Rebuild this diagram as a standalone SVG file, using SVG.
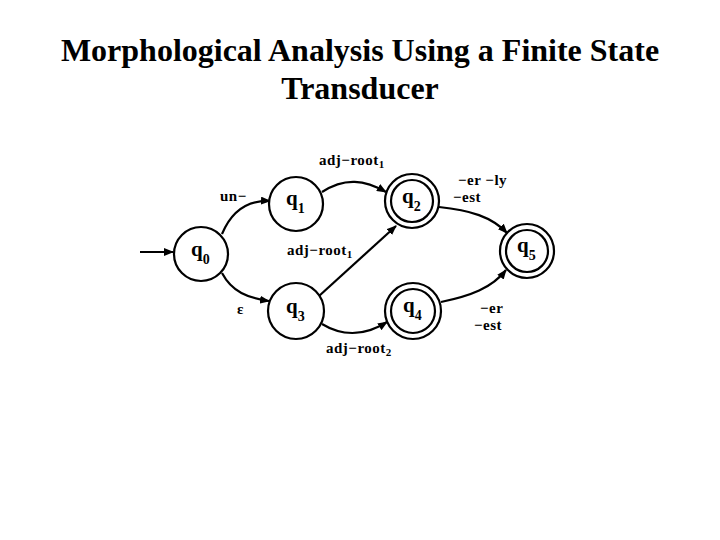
<svg xmlns="http://www.w3.org/2000/svg" width="720" height="540" viewBox="0 0 720 540">
<style>
.t{font-family:"Liberation Serif",serif;font-weight:bold;font-size:32px;text-anchor:middle;fill:#000}
.st{fill:#fff;stroke:#000;stroke-width:2.2}
.q{font-family:"Liberation Serif",serif;font-weight:bold;font-size:21px;fill:#000}
.qs{font-size:14px}
.s{font-size:11px}
.l{font-family:"Liberation Serif",serif;font-weight:bold;font-size:15px;fill:#000;letter-spacing:0.5px}
.e{fill:none;stroke:#000;stroke-width:2.2;marker-end:url(#a)}
</style>
<defs>
<marker id="a" markerWidth="10" markerHeight="8" refX="9" refY="4" orient="auto" markerUnits="userSpaceOnUse">
<path d="M0,0 L10,4 L0,8 Z" fill="#000"/>
</marker>
</defs>
<rect width="720" height="540" fill="#fff"/>
<text class="t" x="360" y="61">Morphological Analysis Using a Finite State</text>
<text class="t" x="360" y="99">Transducer</text>
<g id="edges">
<path class="e" d="M140,252 L173,252"/>
<path class="e" d="M222,234 C232,210 248,200 270,201"/>
<path class="e" d="M322,192 C345,177 365,180 386,192"/>
<path class="e" d="M319,296 L396,226"/>
<path class="e" d="M222,273 C232,292 248,298 269,301"/>
<path class="e" d="M322,324 C345,338 368,334 387,322"/>
<path class="e" d="M439,207 C470,210 492,217 507,233"/>
<path class="e" d="M441,302 C470,296 492,288 506,270"/>
</g>
<g id="labels">
<text class="l" x="319" y="165">adj−root<tspan class="s" dy="3">1</tspan></text>
<text class="l" x="220" y="201">un−</text>
<text class="l" x="287" y="255">adj−root<tspan class="s" dy="3">1</tspan></text>
<text class="l" x="237" y="314">ε</text>
<text class="l" x="326" y="353">adj−root<tspan class="s" dy="3">2</tspan></text>
<text class="l" x="458" y="185">−er −ly</text>
<text class="l" x="453" y="202">−est</text>
<text class="l" x="480" y="313">−er</text>
<text class="l" x="474" y="330">−est</text>
</g>
<g id="q0"><circle class="st" cx="201" cy="254" r="27"/><text class="q" x="191" y="256">q<tspan class="qs" dy="8">0</tspan></text></g>
<g id="q1"><circle class="st" cx="296" cy="204" r="27"/><text class="q" x="286" y="205">q<tspan class="qs" dy="8">1</tspan></text></g>
<g id="q2"><circle class="st" cx="412" cy="201" r="27"/><circle class="st" cx="412" cy="201" r="21"/><text class="q" x="402" y="203">q<tspan class="qs" dy="8">2</tspan></text></g>
<g id="q3"><circle class="st" cx="296" cy="311" r="28"/><text class="q" x="286" y="313">q<tspan class="qs" dy="8">3</tspan></text></g>
<g id="q4"><circle class="st" cx="413" cy="311" r="28"/><circle class="st" cx="413" cy="311" r="22"/><text class="q" x="403" y="312">q<tspan class="qs" dy="8">4</tspan></text></g>
<g id="q5"><circle class="st" cx="527" cy="251" r="27"/><circle class="st" cx="527" cy="251" r="21"/><text class="q" x="517" y="252">q<tspan class="qs" dy="8">5</tspan></text></g>
</svg>
